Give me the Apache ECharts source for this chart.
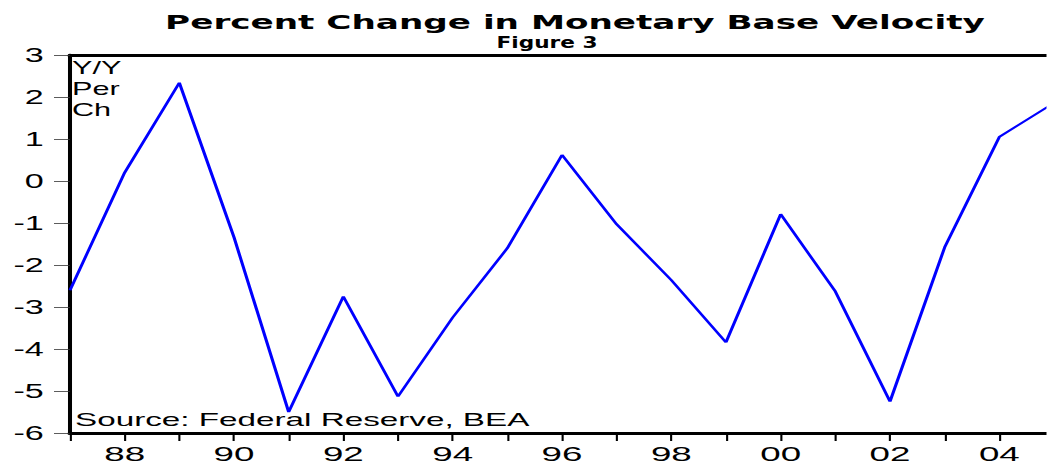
<!DOCTYPE html>
<html><head><meta charset="utf-8">
<script src="https://cdn.jsdelivr.net/npm/echarts@6/dist/echarts.min.js"></script>
<style>
html,body{margin:0;padding:0;background:#fff;overflow:hidden;width:1047px;height:466px}
#c{width:598.29px;height:466px;transform:scaleX(1.75);transform-origin:0 0}
</style>
</head><body><div id="c"></div>
<script>
const years = [1987,1988,1989,1990,1991,1992,1993,1994,1995,1996,1997,1998,1999,2000,2001,2002,2003,2004,2005];
const velocityChange = [-2.6,0.2,2.34,-1.34,-5.5,-2.75,-5.13,-3.25,-1.6,0.62,-1.03,-2.36,-3.84,-0.79,-2.63,-5.25,-1.58,1.05,1.86];
const yTicks = [-6,-5,-4,-3,-2,-1,0,1,2,3];
const titleText = 'Percent Change in Monetary Base Velocity';
const subtitleText = 'Figure 3';

const S = 1.75; // horizontal stretch of the original picture
const font = 'Liberation Sans, Arial, sans-serif';
const titleFont = 'DejaVu Sans, Liberation Sans, sans-serif';
function fitScale(text, f, target){
  const ctx = document.createElement('canvas').getContext('2d');
  ctx.font = f;
  return target / ctx.measureText(text).width;
}
const tFont = 'bold 19.5px ' + titleFont;
const sFont = 'bold 15px ' + titleFont;
const tScale = fitScale(titleText, tFont, 820 / S);
const sScale = fitScale(subtitleText, sFont, 101 / S);

const chart = echarts.init(document.getElementById('c'), null, {renderer:'svg'});
chart.setOption({
  animation:false,
  grid:{left:70/S,top:55,width:984/S,height:378,containLabel:false,outerBoundsMode:'none'},
  xAxis:[{type:'value',min:1987,max:2005,interval:1,
    axisLine:{show:true,onZero:false,lineStyle:{color:'#000',width:3}},
    axisTick:{show:true,length:8,lineStyle:{color:'#000',width:1.2}},
    splitLine:{show:false},
    axisLabel:{fontFamily:font,fontSize:21,color:'#000',margin:10,
      formatter:v=> (v%2===0 ? String(v).slice(2) : '')}},
    {type:'value',position:'top',min:1987,max:2005,
    axisLine:{show:true,onZero:false,lineStyle:{color:'#000',width:3}},
    axisTick:{show:false},axisLabel:{show:false},splitLine:{show:false}}],
  yAxis:{type:'value',min:yTicks[0],max:yTicks[yTicks.length-1],interval:1,
    axisLine:{show:true,lineStyle:{color:'#000',width:2.3}},
    axisTick:{show:true,length:16/S,lineStyle:{color:'#333',width:0.8}},
    splitLine:{show:false},
    axisLabel:{fontFamily:font,fontSize:19.5,color:'#000',margin:15}},
  graphic:[
    {type:'text',x:575/S,y:12,scaleX:tScale,
     style:{text:titleText,font:tFont,fill:'#000',align:'center',verticalAlign:'top'}},
    {type:'text',x:547/S,y:35,scaleX:sScale,
     style:{text:subtitleText,font:sFont,fill:'#000',align:'center',verticalAlign:'top'}},
    {type:'text',x:72/S,y:57,style:{text:'Y/Y\nPer\nCh',fontFamily:font,fontSize:17.5,lineHeight:21,fill:'#000'}},
    {type:'text',x:75/S,y:410,style:{text:'Source: Federal Reserve, BEA',fontFamily:font,fontSize:19,fill:'#000'}}
  ],
  series:[{type:'line',xAxisIndex:0,data:years.map((y,i)=>[y,velocityChange[i]]),symbol:'none',
    lineStyle:{color:'#0000ff',width:1.8}}]
});
</script></body></html>
